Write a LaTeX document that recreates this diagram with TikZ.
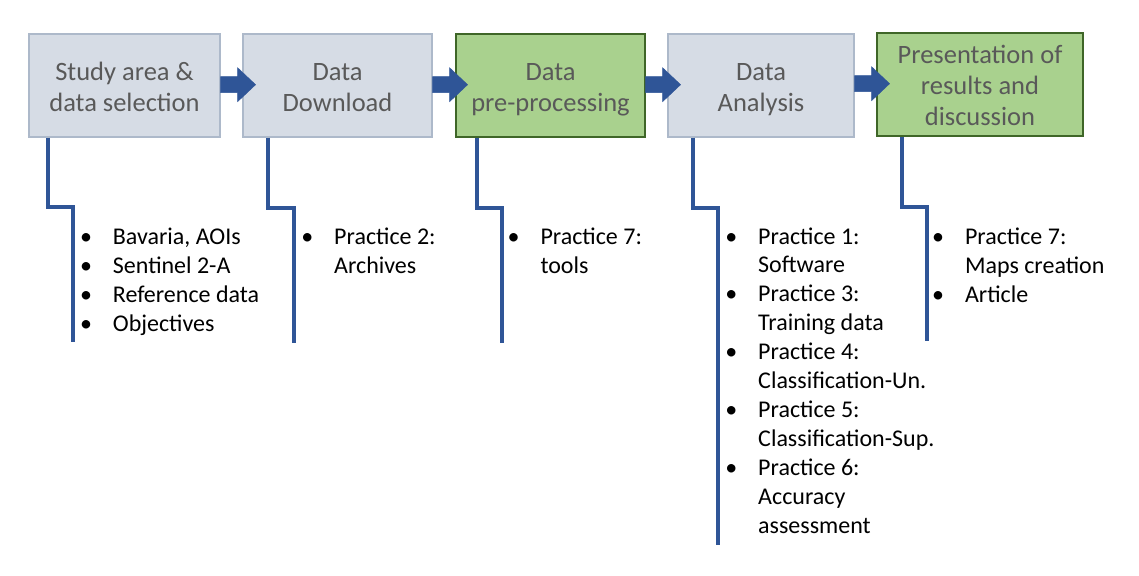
\documentclass[tikz,border=0pt]{standalone}
\usepackage{fontspec}
\setmainfont{Carlito}
\usetikzlibrary{calc}
\definecolor{boxgray}{HTML}{D6DCE5}
\definecolor{boxgrayline}{HTML}{ADB9CA}
\definecolor{boxgreen}{HTML}{A9D18E}
\definecolor{boxgreenline}{HTML}{3F6628}
\definecolor{boxtext}{HTML}{595959}
\definecolor{flowblue}{HTML}{2F5597}
\newcommand\topstr{\rule{0pt}{27pt}}
\newcommand\botstr{\rule[-7pt]{0pt}{7pt}}
\tikzset{
  stepgray/.style={draw=boxgrayline, fill=boxgray, line width=1.2pt, text=boxtext,
    align=center, inner sep=0pt, font=\fontsize{26.5}{31}\selectfont},
  stepgreen/.style={stepgray, draw=boxgreenline, fill=boxgreen},
  flowarrow/.style={fill=flowblue, draw=flowblue, line width=0.4pt, line join=miter},
  link/.style={draw=flowblue, line width=3.8pt},
  bul/.style={anchor=base, inner sep=0pt, font=\fontsize{24}{29}\selectfont},
  itm/.style={anchor=base west, inner sep=0pt, font=\fontsize{24}{29}\selectfont},
  pics/blockarrow/.style={code={
    \path[flowarrow] (0,-8) -- (17,-8) -- (17,-17) -- (35,0) -- (17,17) -- (17,8) -- (0,8) -- cycle;
  }},
}
\begin{document}
\begin{tikzpicture}[x=1pt,y=-1pt]
\useasboundingbox (0,0) rectangle (1139,575);
% boxes
\node[stepgray, minimum width=191pt, minimum height=103pt] (b1) at (124.5,85.5) {\topstr Study area \&\\data selection\botstr};
\node[stepgray, minimum width=189pt, minimum height=103pt] (b2) at (337.5,85.5) {\topstr Data\\Download\botstr};
\node[stepgreen, minimum width=189pt, minimum height=103pt] (b3) at (550.5,85.5) {\topstr Data\\pre-processing\botstr};
\node[stepgray, minimum width=186pt, minimum height=103pt] (b4) at (761,85.5) {\topstr Data\\Analysis\botstr};
\node[stepgreen, minimum width=206pt, minimum height=103pt] (b5) at (980,84.5) {\topstr Presentation of\\results and\\discussion\botstr};
% arrows (drawn over the next box, as in the original)
\pic at ([yshift=0.8pt]b1.east) {blockarrow};
\pic at ([yshift=0.8pt]b2.east) {blockarrow};
\pic at ([yshift=0.8pt]b3.east) {blockarrow};
\pic at ([yshift=1.8pt]b4.east) {blockarrow};
% connectors
\coordinate (e1) at (73,342);
\coordinate (e2) at (294,343);
\coordinate (e3) at (502,343);
\coordinate (e4) at (718,545);
\coordinate (e5) at (927,341);
\draw[link] (b1.south -| 48,0) |- (73,207) -- (e1);
\draw[link] (b2.south -| 268,0) |- (294,208) -- (e2);
\draw[link] (b3.south -| 477,0) |- (502,208) -- (e3);
\draw[link] (b4.south -| 693,0) |- (718,208) -- (e4);
\draw[link] (b5.south -| 902,0) |- (927,207) -- (e5);
% list 1
\node[bul] (p1a) at (86,244) {•};
\node[itm] (t1a) at (112.7,244) {Bavaria, AOIs};
\node[bul] (p1b) at (86,273) {•};
\node[itm] (t1b) at (112.7,273) {Sentinel 2-A};
\node[bul] (p1c) at (86,302) {•};
\node[itm] (t1c) at (112.7,302) {Reference data};
\node[bul] (p1d) at (86,331) {•};
\node[itm] (t1d) at (112.7,331) {Objectives};
% list 2
\node[bul] (p2a) at (307.3,244) {•};
\node[itm] (t2a) at (334,244) {Practice 2:};
\node[itm] (t2b) at (334,273) {Archives};
% list 3
\node[bul] (p3a) at (513.6,244) {•};
\node[itm] (t3a) at (540.3,244) {Practice 7:};
\node[itm] (t3b) at (540.3,273) {tools};
% list 4
\node[bul] (p4a) at (731.3,244) {•};
\node[itm] (t4a) at (758,244) {Practice 1:};
\node[itm] (t4b) at (758,272.9) {Software};
\node[bul] (p4c) at (731.3,301.8) {•};
\node[itm] (t4c) at (758,301.8) {Practice 3:};
\node[itm] (t4d) at (758,330.7) {Training data};
\node[bul] (p4e) at (731.3,359.6) {•};
\node[itm] (t4e) at (758,359.6) {Practice 4:};
\node[itm] (t4f) at (758,388.5) {Classification-Un.};
\node[bul] (p4g) at (731.3,417.4) {•};
\node[itm] (t4g) at (758,417.4) {Practice 5:};
\node[itm] (t4h) at (758,446.3) {Classification-Sup.};
\node[bul] (p4i) at (731.3,475.2) {•};
\node[itm] (t4i) at (758,475.2) {Practice 6:};
\node[itm] (t4j) at (758,504.1) {Accuracy};
\node[itm] (t4k) at (758,533) {assessment};
% list 5
\node[bul] (p5a) at (938,244) {•};
\node[itm] (t5a) at (964.8,244) {Practice 7:};
\node[itm] (t5b) at (964.8,273) {Maps creation};
\node[bul] (p5c) at (938,302) {•};
\node[itm] (t5c) at (964.8,302) {Article};
\end{tikzpicture}
\end{document}
